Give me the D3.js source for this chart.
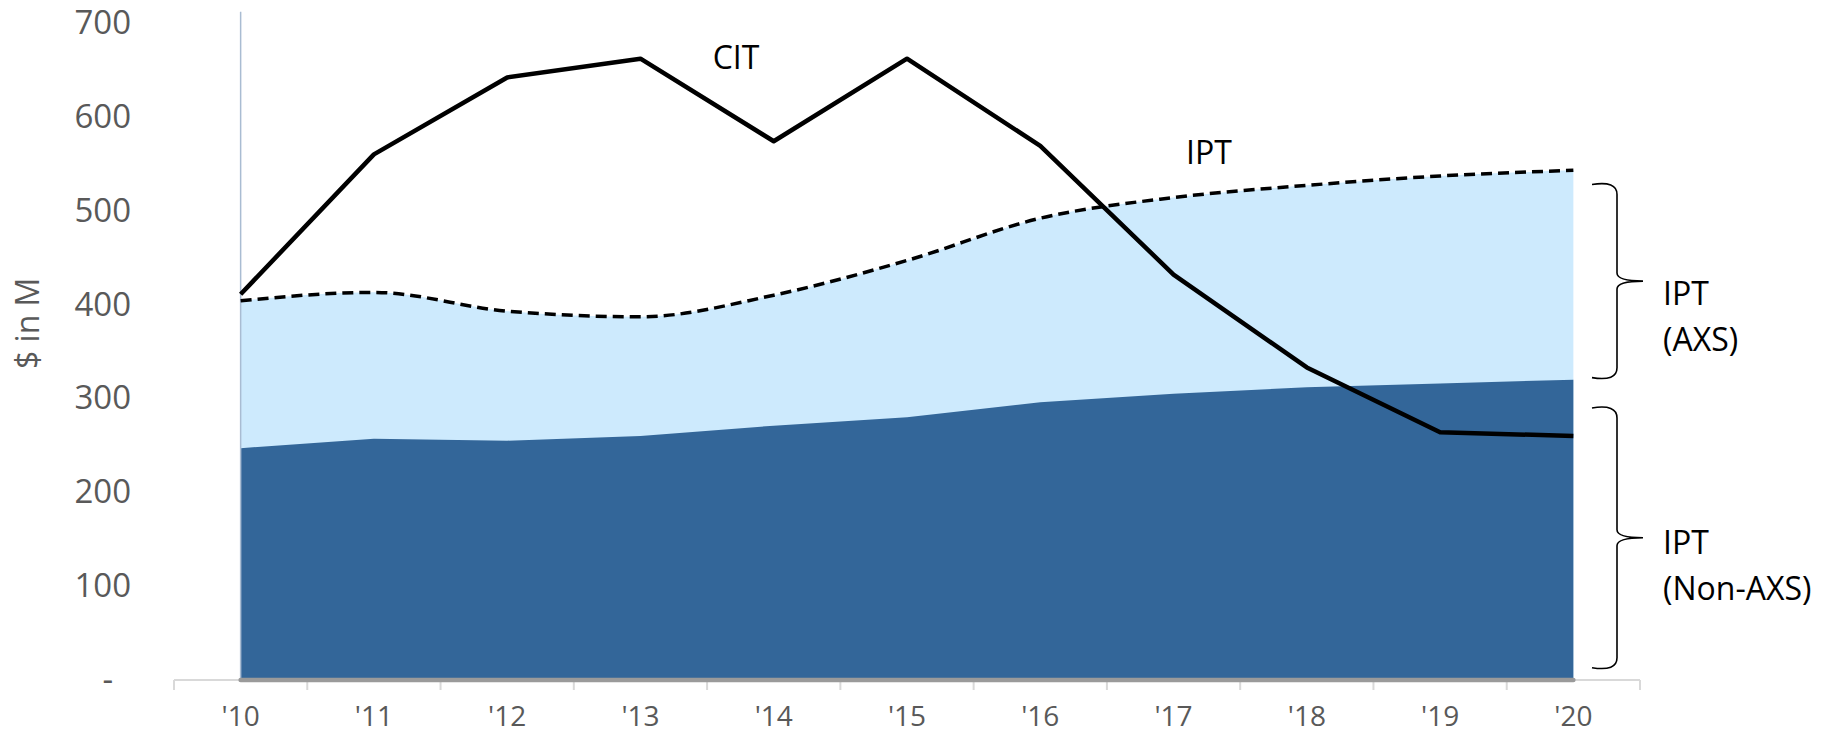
<!DOCTYPE html>
<html>
<head>
<meta charset="utf-8">
<script src="https://cdn.jsdelivr.net/npm/d3@7"></script>
<style>
  body { margin: 0; background: #fff; }
  svg { display: block; }
</style>
</head>
<body>
<svg id="chart"></svg>
<script>
// values ($ in M)
const years = ["'10", "'11", "'12", "'13", "'14", "'15", "'16", "'17", "'18", "'19", "'20"];
const citValues = [411, 560, 642, 662, 574, 662, 569, 432, 333, 264, 260];
const iptTotal = [404, 413, 393, 387, 410, 447, 492, 514, 527, 537, 543];
const iptNonAxs = [247, 257, 255, 260, 271, 280, 296, 305, 312, 316, 320];
const yTicks = [0, 100, 200, 300, 400, 500, 600, 700];
// brace annotations: [low, high, line1, line2]
const braces = [
  [320, 530, "IPT", "(AXS)"],
  [11, 292, "IPT", "(Non-AXS)"]
];

const width = 1822, height = 735;
const font = "'Open Sans', 'Segoe UI', sans-serif";
const svg = d3.select("#chart").attr("width", width).attr("height", height);

const x = d3.scaleBand().domain(years).range([174, 1640]).padding(0);
const cx = (d) => x(d) + x.bandwidth() / 2;
const y = d3.scaleLinear().domain([0, 700]).range([680, 23]);

const rows = years.map((yr, i) => ({
  yr, cit: citValues[i], total: iptTotal[i], non: iptNonAxs[i]
}));

const curve = d3.curveMonotoneX;

// light area (AXS) up to the IPT total
svg.append("path")
  .datum(rows)
  .attr("fill", "#cdeafd")
  .attr("d", d3.area().curve(curve).x((d) => cx(d.yr)).y0(y(0)).y1((d) => y(d.total)));

// dark area (non-AXS)
svg.append("path")
  .datum(rows)
  .attr("fill", "#336699")
  .attr("d", d3.area().x((d) => cx(d.yr)).y0(y(0)).y1((d) => y(d.non)));

// y axis vertical line
svg.append("line")
  .attr("x1", cx(years[0])).attr("x2", cx(years[0]))
  .attr("y1", y(712)).attr("y2", y(0))
  .attr("stroke", "#a9bcd2").attr("stroke-width", 1.5);

// x axis base line + boundary ticks
svg.append("line")
  .attr("x1", x.range()[0]).attr("x2", x.range()[1])
  .attr("y1", y(0)).attr("y2", y(0))
  .attr("stroke", "#d9d9d9").attr("stroke-width", 2);
svg.append("g").selectAll("line")
  .data(years.concat(["end"]))
  .join("line")
  .attr("x1", (d) => d === "end" ? x.range()[1] : x(d))
  .attr("x2", (d) => d === "end" ? x.range()[1] : x(d))
  .attr("y1", y(0)).attr("y2", y(0) + 10)
  .attr("stroke", "#d9d9d9").attr("stroke-width", 2);
svg.append("line")
  .attr("x1", cx(years[0])).attr("x2", cx(years[years.length - 1]))
  .attr("y1", y(0)).attr("y2", y(0))
  .attr("stroke", "#9a9a9a").attr("stroke-width", 4.5).attr("stroke-linecap", "round");

// x labels
const xAxis = svg.append("g")
  .attr("transform", `translate(0, ${y(0)})`)
  .call(d3.axisBottom(x).tickSize(0));
xAxis.select(".domain").remove();
xAxis.selectAll("text")
  .attr("y", 46).attr("dy", 0)
  .attr("font-family", font)
  .attr("font-size", 28)
  .attr("fill", "#595959");

// y labels
const yAxis = svg.append("g")
  .attr("transform", "translate(131, 0)")
  .call(d3.axisLeft(y).tickValues(yTicks).tickSize(0).tickPadding(0)
    .tickFormat((d) => d === 0 ? "-" : d));
yAxis.select(".domain").remove();
yAxis.selectAll("text")
  .attr("font-family", font)
  .attr("font-size", 33)
  .attr("fill", "#595959")
  .filter((d) => d === 0).attr("x", -18);

// y title
svg.append("text")
  .attr("transform", `translate(39, ${y(380)}) rotate(-90)`)
  .attr("text-anchor", "middle")
  .attr("font-family", font)
  .attr("font-size", 32)
  .attr("fill", "#595959")
  .text("$ in M");

// IPT dashed line
svg.append("path")
  .datum(rows)
  .attr("fill", "none")
  .attr("stroke", "#000")
  .attr("stroke-width", 3.5)
  .attr("stroke-dasharray", "11,6")
  .attr("d", d3.line().curve(curve).x((d) => cx(d.yr)).y((d) => y(d.total)));

// CIT line
svg.append("path")
  .datum(rows)
  .attr("fill", "none")
  .attr("stroke", "#000")
  .attr("stroke-width", 4.5)
  .attr("stroke-linejoin", "round")
  .attr("d", d3.line().x((d) => cx(d.yr)).y((d) => y(d.cit)));

// series labels
svg.append("text")
  .attr("x", 736).attr("y", 69)
  .attr("text-anchor", "middle")
  .attr("font-family", font).attr("font-size", 32)
  .text("CIT");
svg.append("text")
  .attr("x", 1209).attr("y", 164)
  .attr("text-anchor", "middle")
  .attr("font-family", font).attr("font-size", 32)
  .text("IPT");

// braces on the right
const bx0 = 1592, bx1 = 1617, bTip = 1643;
function bracePath(top, bot) {
  const mid = (top + bot) / 2;
  const r = 8;
  return `M${bx0},${top + 2} Q${bx1},${top - 2} ${bx1},${top + r + 4}` +
    ` L${bx1},${mid - r} Q${bx1},${mid} ${bTip},${mid}` +
    ` Q${bx1},${mid} ${bx1},${mid + r}` +
    ` L${bx1},${bot - r - 4} Q${bx1},${bot + 2} ${bx0},${bot - 2}`;
}
const firstLine = [24, 16];
const bg = svg.append("g").selectAll("g").data(braces).join("g");
bg.append("path")
  .attr("d", (d) => bracePath(y(d[1]), y(d[0])))
  .attr("fill", "none").attr("stroke", "#000").attr("stroke-width", 1.6);
bg.append("text")
  .attr("x", 1663)
  .attr("y", (d, i) => (y(d[0]) + y(d[1])) / 2 + firstLine[i])
  .attr("font-family", font).attr("font-size", 32)
  .text((d) => d[2]);
bg.append("text")
  .attr("x", 1663)
  .attr("y", (d, i) => (y(d[0]) + y(d[1])) / 2 + firstLine[i] + 46)
  .attr("font-family", font).attr("font-size", 32)
  .text((d) => d[3]);
</script>
</body>
</html>
